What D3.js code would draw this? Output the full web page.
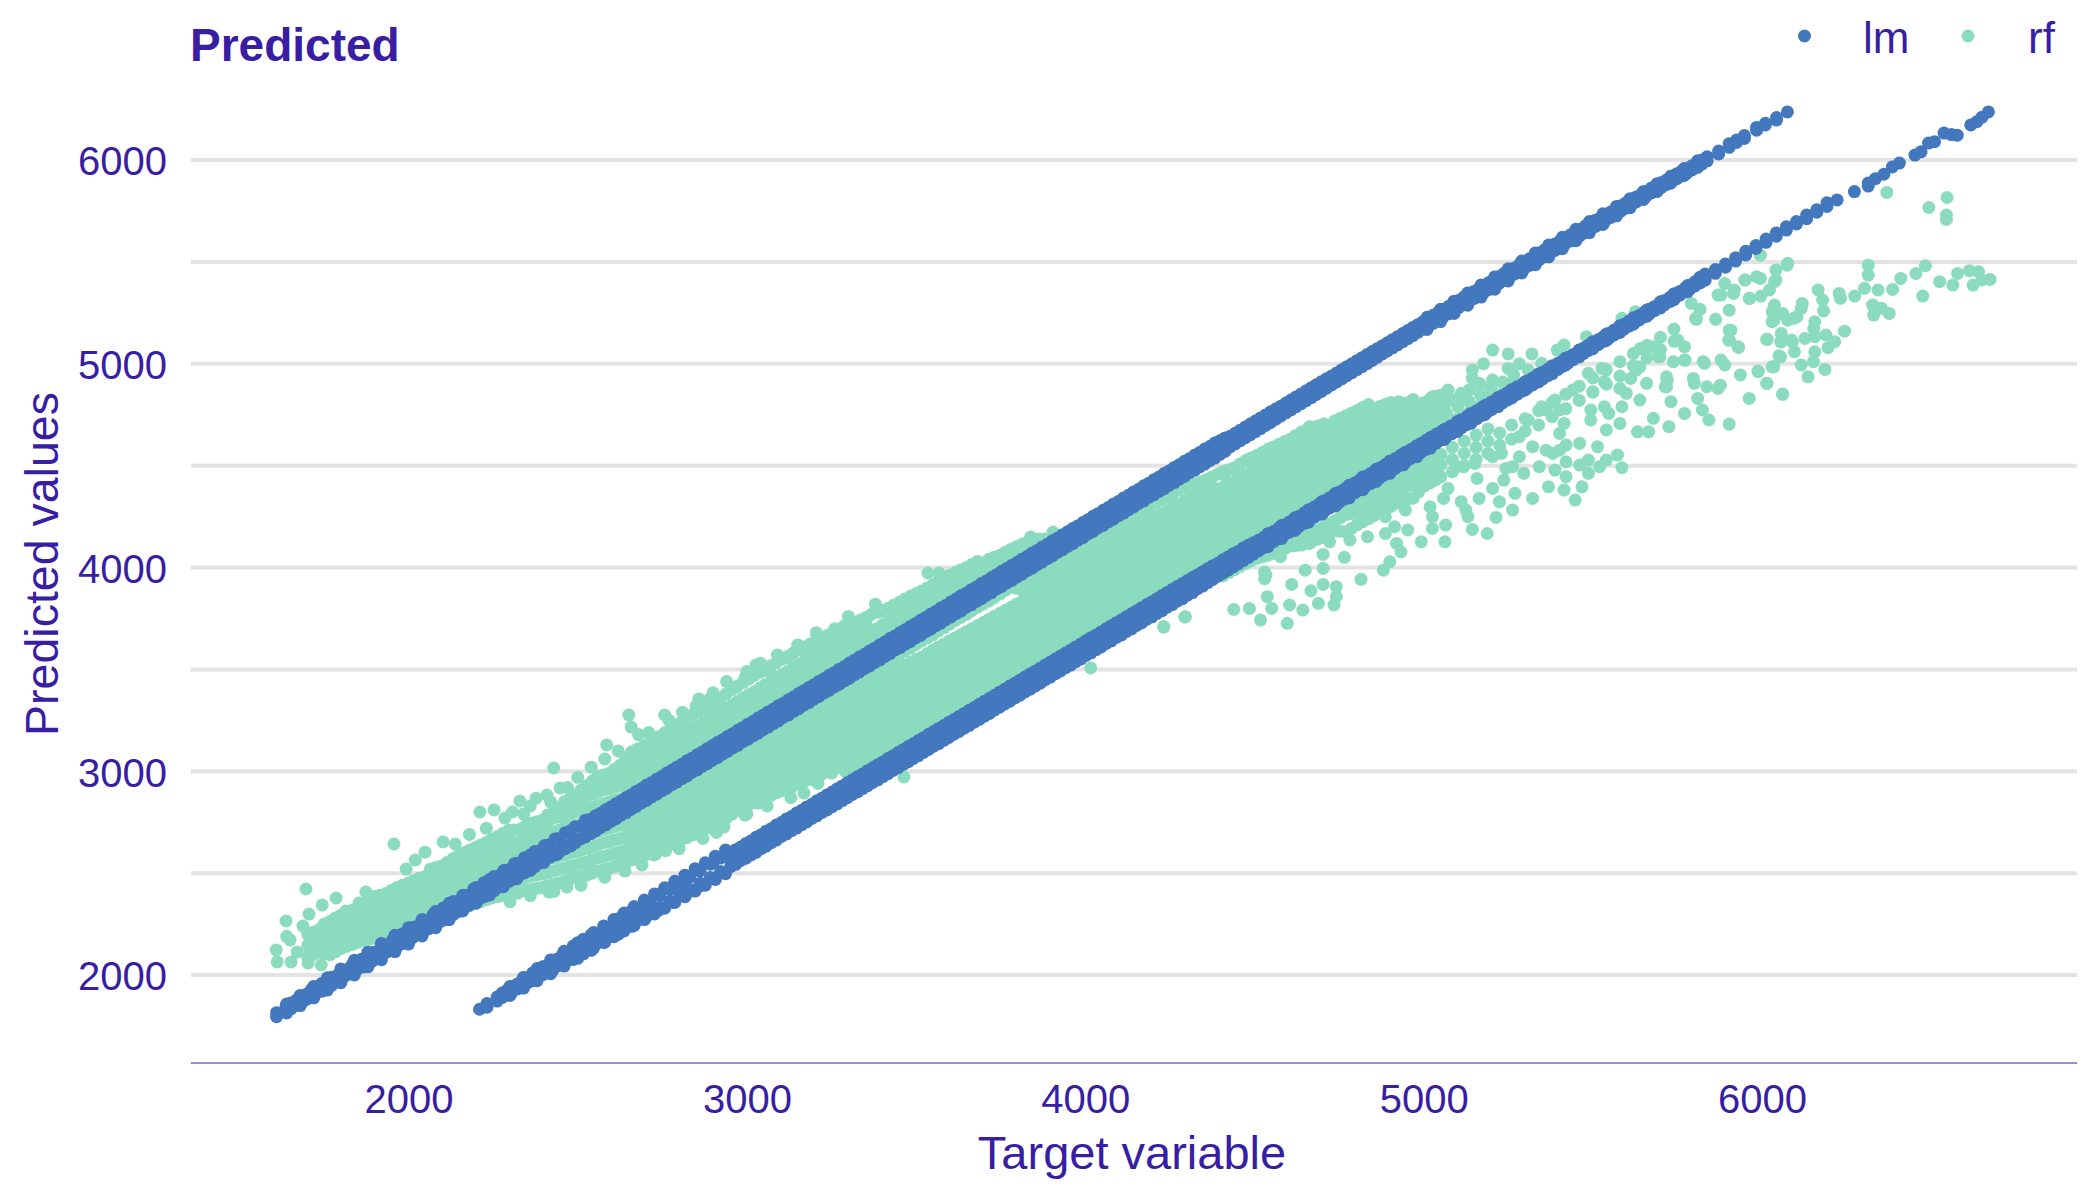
<!DOCTYPE html>
<html><head><meta charset="utf-8"><script src="https://cdn.jsdelivr.net/npm/d3@7/dist/d3.min.js"></script>
<style>html,body{margin:0;padding:0;background:#fff}svg{display:block}</style></head><body><div id="chart"></div>
<script>
const xTicks=[2000,3000,4000,5000,6000];
const yTicks=[2000,3000,4000,5000,6000];
const yGrid=[2000,2500,3000,3500,4000,4500,5000,5500,6000];
const legendKeys=["lm","rf"];
// each row: target value, then the predicted values read at that target
const rfDense=[
[1702,2090,2145,2200],[1735,2112,2165,2222],[1768,2100,2150,2205,2262],[1801,2130,2185,2240,2295],[1834,2150,2205,2262,2318],[1867,2170,2225,2280,2340],[1900,2180,2235,2290,2345,2385],[1933,2200,2260,2315,2370,2400],[1966,2210,2265,2320,2375,2430],[1999,2225,2285,2340,2395,2450],[2032,2250,2305,2365,2420,2475],[2065,2270,2325,2380,2435,2490,2520],[2098,2280,2340,2400,2455,2510,2535],[2131,2305,2360,2420,2475,2530,2570],[2164,2330,2385,2440,2500,2555,2600],[2197,2350,2405,2465,2520,2575,2625],[2230,2370,2425,2480,2540,2595,2650],[2263,2385,2445,2500,2560,2615,2680],[2296,2400,2460,2520,2580,2640,2710],[2329,2410,2470,2535,2595,2655,2715],[2362,2420,2485,2550,2610,2670,2745],[2395,2430,2495,2560,2625,2690,2760],[2428,2445,2510,2575,2640,2700,2770,2800],[2461,2460,2525,2590,2655,2720,2780,2850],[2494,2480,2540,2605,2670,2735,2800,2885],[2527,2490,2555,2620,2685,2750,2815,2880,2930],[2560,2510,2575,2640,2705,2770,2835,2900,2975],[2593,2525,2590,2655,2720,2785,2850,2915,2990],[2626,2540,2605,2670,2735,2800,2865,2930,3030],
[2659,2565,2620,2675,2730,2775,2925,2980,3040,3095],[2692,2580,2635,2690,2745,2800,2955,3010,3065,3120],[2725,2610,2665,2720,2775,2830,2975,3030,3085,3150],[2758,2630,2685,2740,2795,2850,2870,3020,3075,3130,3190],[2791,2655,2710,2765,2820,2875,2905,3050,3105,3160,3225],[2824,2675,2730,2785,2840,2895,2945,3085,3140,3195,3260],[2857,2700,2755,2810,2865,2920,2975,3115,3170,3225,3295],[2890,2725,2780,2835,2890,2945,3005,3150,3205,3260,3325],[2923,2750,2805,2860,2915,2970,3040,3185,3240,3295,3360],[2956,2790,2845,2900,2955,3010,3075,3215,3270,3325,3400],[2989,2825,2880,2935,2990,3045,3105,3250,3305,3360,3435],[3022,2845,2900,2955,3010,3065,3140,3280,3335,3390,3470],[3055,2870,2925,2980,3035,3090,3170,3315,3370,3425,3500],[3088,2895,2950,3005,3060,3115,3205,3350,3405,3460,3535],[3121,2915,2970,3025,3080,3135,3190,3240,3380,3435,3490,3565],[3154,2940,2995,3050,3105,3160,3215,3270,3415,3470,3525,3595],[3187,2960,3015,3070,3125,3180,3235,3305,3445,3500,3555,3625],[3220,2985,3040,3095,3150,3205,3260,3340,3480,3535,3590,3650],[3253,3010,3065,3120,3175,3230,3285,3375,3510,3565,3620,3680],[3286,3030,3085,3140,3195,3250,3305,3405,3545,3600,3655,3705],[3319,3050,3105,3160,3215,3270,3325,3440,3580,3635,3690,3730],[3352,3070,3125,3180,3235,3290,3345,3400,3475,3610,3665,3720,3755],[3385,3085,3140,3195,3250,3305,3360,3415,3505,3645,3700,3780],[3418,3110,3165,3220,3275,3330,3385,3440,3540,3680,3735,3800],
[3451,3125,3180,3235,3290,3345,3400,3455,3510,3575,3710,3770,3830],[3484,3150,3205,3260,3315,3370,3425,3480,3535,3605,3745,3800,3860],[3517,3175,3230,3285,3340,3395,3450,3505,3560,3640,3775,3830,3885],[3550,3210,3265,3320,3375,3430,3485,3540,3595,3670,3810,3865,3915],[3583,3240,3295,3350,3405,3460,3515,3570,3625,3705,3845,3900,3950],[3616,3270,3325,3380,3435,3490,3545,3600,3655,3740,3875,3930,3975],[3649,3300,3355,3410,3465,3520,3575,3630,3685,3770,3910,3965,4000],[3682,3330,3385,3440,3495,3550,3605,3660,3715,3805,3945,4000,4030],[3715,3360,3415,3470,3525,3580,3635,3690,3745,3835,3975,4040],[3748,3390,3445,3500,3555,3610,3665,3720,3775,3870,4010,4060],[3781,3420,3475,3530,3585,3640,3695,3750,3805,3905,4040,4090],[3814,3450,3505,3560,3615,3670,3725,3780,3835,3890,3935,4075,4115],[3847,3480,3535,3590,3645,3700,3755,3810,3865,3920,3970,4105,4135],[3880,3510,3565,3620,3675,3730,3785,3840,3895,3950,4000,4140],[3913,3540,3595,3650,3705,3760,3815,3870,3925,3980,4035],[3946,3570,3625,3680,3735,3790,3845,3900,3955,4010,4065],[3979,3600,3655,3710,3765,3820,3875,3930,3985,4040,4100],[4012,3630,3685,3740,3795,3850,3905,3960,4015,4070,4130],[4045,3660,3715,3770,3825,3880,3935,3990,4045,4100,4160],[4078,3690,3745,3800,3855,3910,3965,4020,4075,4130,4190],[4111,3720,3775,3830,3885,3940,3995,4050,4105,4160,4215],[4144,3750,3805,3860,3915,3970,4025,4080,4135,4190,4245],[4177,3780,3835,3890,3945,4000,4055,4110,4165,4220,4280],[4210,3810,3865,3920,3975,4030,4085,4140,4195,4250,4320],[4243,3840,3895,3950,4005,4060,4115,4170,4225,4280,4345],[4276,3870,3925,3980,4035,4090,4145,4200,4255,4310,4380],[4309,3900,3955,4010,4065,4120,4175,4230,4285,4340,4400],[4342,3930,3985,4040,4095,4150,4205,4260,4315,4370,4420],[4375,3960,4015,4070,4125,4180,4235,4290,4345,4400,4445],
[4408,3960,4065,4120,4175,4230,4285,4340,4395,4470],[4441,3990,4090,4145,4200,4255,4310,4365,4420,4490],[4474,4020,4125,4180,4235,4290,4345,4400,4455,4525],[4507,4045,4155,4210,4265,4320,4375,4430,4485,4550],[4540,4060,4190,4245,4300,4355,4410,4465,4520,4580],[4573,4080,4220,4275,4330,4385,4440,4495,4550,4605],[4606,4105,4255,4310,4365,4420,4475,4530,4585,4630],[4639,4110,4155,4285,4340,4395,4450,4505,4560,4615,4665],[4672,4130,4170,4315,4370,4425,4480,4535,4590,4645,4685],[4705,4150,4200,4350,4405,4460,4515,4570,4625,4680,4705],[4738,4180,4230,4380,4435,4490,4545,4600,4655,4720],[4771,4175,4260,4300,4415,4470,4525,4580,4635,4690,4745],[4804,4210,4270,4330,4445,4500,4555,4610,4665,4720,4770],[4837,4240,4300,4360,4475,4530,4585,4640,4695,4750,4800],[4870,4270,4330,4385,4510,4565,4620,4675,4730,4790],[4903,4300,4360,4415,4540,4595,4650,4705,4760,4810],[4936,4330,4385,4445,4570,4625,4680,4735,4790],[4969,4340,4410,4475,4605,4660,4715,4770,4825],[5002,4400,4460,4510,4640,4695,4750,4810],[5035,4430,4490,4540,4670,4725,4780,4840],[5068,4700,4755,4810,4850],[5101,4730,4790,4830],[5134,4760,4815,4870],[5167,4795,4850,4900],[5200,4825,4880],[5233,4855,4910],[5266,4890,4945]
];
const rfDense2=[
[1718,2100,2155,2210],[1751,2105,2158,2214,2250],[1784,2115,2168,2222,2280],[1817,2140,2195,2250,2305],[1850,2160,2215,2270,2330],[1883,2175,2230,2285,2342,2370],[1916,2190,2248,2302,2358,2392],[1949,2205,2262,2318,2372,2415],[1982,2218,2275,2330,2385,2440],[2015,2238,2295,2352,2408,2462],[2048,2260,2315,2372,2428,2482],[2081,2275,2332,2390,2445,2500,2528],[2114,2292,2350,2410,2465,2520,2552],[2147,2318,2372,2430,2488,2542,2585],[2180,2340,2395,2452,2510,2565,2612],[2213,2360,2415,2472,2530,2585,2638],[2246,2378,2435,2490,2550,2605,2665],[2279,2392,2452,2510,2570,2628,2660,2695],[2312,2405,2465,2528,2588,2648,2712],[2345,2415,2478,2542,2602,2662,2696,2730],[2378,2425,2490,2555,2618,2680,2716,2752],[2411,2438,2502,2568,2632,2695,2725,2765,2785],[2444,2452,2518,2582,2648,2710,2775,2825],[2477,2470,2532,2598,2662,2728,2790,2830,2868],[2510,2485,2548,2612,2678,2742,2808,2842,2880,2908],[2543,2500,2565,2630,2695,2760,2825,2890,2952],[2576,2518,2582,2648,2712,2778,2842,2908,2945,2982],[2609,2532,2598,2662,2728,2792,2858,2922,2966,3010],[2642,2552,2612,2672,2732,2788,2928,2955,2992,3028,3062],[2675,2572,2628,2682,2738,2788,2940,2995,3052,3108],[2708,2595,2650,2705,2760,2815,2965,3020,3075,3135],[2741,2620,2675,2730,2785,2840,2998,3052,3108,3170],[2774,2642,2698,2752,2808,2862,2888,3035,3090,3145,3208],[2807,2665,2720,2775,2830,2885,2925,3068,3122,3178,3242],[2840,2688,2742,2798,2852,2908,2960,3100,3155,3210,3278],[2873,2712,2768,2822,2878,2932,2990,3132,3188,3242,3310],[2906,2738,2792,2848,2902,2958,3022,3168,3222,3278,3342],[2939,2770,2825,2880,2935,2990,3058,3200,3255,3310,3380],[2972,2808,2862,2918,2972,3028,3090,3232,3288,3342,3418],[3005,2835,2890,2945,3000,3055,3088,3122,3265,3320,3375,3452],[3038,2858,2912,2968,3022,3078,3116,3155,3298,3352,3408,3485],[3071,2882,2938,2992,3048,3102,3145,3188,3332,3388,3442,3518],[3104,2905,2960,3015,3070,3125,3160,3198,3365,3420,3475,3550],[3137,2928,2982,3038,3092,3148,3202,3255,3398,3452,3508,3580],[3170,2950,3005,3060,3115,3170,3225,3288,3430,3485,3540,3610],[3203,2972,3028,3082,3138,3192,3248,3285,3322,3462,3518,3572,3638],[3236,2998,3052,3108,3162,3218,3272,3315,3358,3495,3550,3605,3665],[3269,3020,3075,3130,3185,3240,3295,3342,3390,3528,3582,3638,3692],[3302,3040,3095,3150,3205,3260,3315,3368,3422,3562,3618,3672,3718],[3335,3060,3115,3170,3225,3280,3335,3390,3424,3458,3595,3650,3705,3742],[3368,3078,3132,3188,3242,3298,3352,3408,3449,3490,3628,3682,3770],[3401,3098,3152,3208,3262,3318,3372,3428,3475,3522,3662,3718,3790],[3434,3118,3172,3228,3282,3338,3392,3448,3486,3525,3558,3695,3752,3815],[3467,3138,3192,3248,3302,3358,3412,3468,3522,3590,3728,3785,3845],[3500,3162,3218,3272,3328,3382,3438,3492,3548,3622,3760,3815,3872],[3533,3192,3248,3302,3358,3412,3468,3522,3578,3655,3792,3848,3900],[3566,3225,3280,3335,3390,3445,3500,3555,3610,3688,3828,3882,3932],[3599,3255,3310,3365,3420,3475,3530,3585,3640,3722,3860,3915,3962],[3632,3285,3340,3395,3450,3505,3560,3615,3670,3755,3892,3948,3988],[3665,3315,3370,3425,3480,3535,3590,3645,3700,3788,3928,3982,4015],[3698,3345,3400,3455,3510,3565,3620,3675,3730,3820,3960,4020],[3731,3375,3430,3485,3540,3595,3650,3705,3760,3852,3992,4050],[3764,3405,3460,3515,3570,3625,3680,3735,3790,3888,4025,4075],[3797,3435,3490,3545,3600,3655,3710,3765,3820,3898,4058,4102],[3830,3465,3520,3575,3630,3685,3740,3795,3850,3905,3952,4090,4125],[3863,3495,3550,3605,3660,3715,3770,3825,3880,3935,3985,4122,4140],[3896,3525,3580,3635,3690,3745,3800,3855,3910,3965,4018],[3929,3555,3610,3665,3720,3775,3830,3885,3940,3995,4050],[3962,3585,3640,3695,3750,3805,3860,3915,3970,4025,4082],[3995,3615,3670,3725,3780,3835,3890,3945,4000,4055,4115],[4028,3645,3700,3755,3810,3865,3920,3975,4030,4085,4145],[4061,3675,3730,3785,3840,3895,3950,4005,4060,4115,4175],[4094,3705,3760,3815,3870,3925,3980,4035,4090,4145,4202],[4127,3735,3790,3845,3900,3955,4010,4065,4120,4175,4230],[4160,3765,3820,3875,3930,3985,4040,4095,4150,4205,4262],[4193,3795,3850,3905,3960,4015,4070,4125,4180,4235,4300],[4226,3825,3880,3935,3990,4045,4100,4155,4210,4265,4332],[4259,3855,3910,3965,4020,4075,4130,4185,4240,4295,4362],[4292,3885,3940,3995,4050,4105,4160,4215,4270,4325,4392],[4325,3915,3970,4025,4080,4135,4190,4245,4300,4355,4410],[4358,3945,4000,4055,4110,4165,4220,4275,4330,4385,4432],[4391,3960,4040,4095,4150,4205,4260,4315,4370,4458],[4424,3975,4078,4132,4188,4242,4298,4352,4408,4480],[4457,4005,4108,4162,4218,4272,4328,4382,4438,4508],[4490,4032,4140,4195,4250,4305,4360,4415,4470,4538],[4523,4052,4172,4228,4282,4338,4392,4448,4502,4565],[4556,4070,4205,4260,4315,4370,4425,4480,4535,4592],[4589,4092,4238,4292,4348,4402,4458,4512,4568,4618],[4622,4108,4150,4270,4325,4380,4435,4490,4545,4600,4648],[4655,4120,4162,4300,4355,4410,4465,4520,4575,4630,4675],[4688,4140,4185,4332,4388,4442,4498,4552,4608,4662,4695],[4721,4165,4215,4365,4420,4475,4530,4585,4640,4700],[4754,4178,4245,4398,4452,4508,4562,4618,4672,4732],[4787,4192,4265,4315,4430,4485,4540,4595,4650,4705,4758],[4820,4225,4285,4345,4460,4515,4570,4625,4680,4735,4785],[4853,4255,4315,4372,4492,4548,4602,4658,4712,4770],[4886,4285,4345,4400,4525,4580,4635,4690,4745,4800],[4919,4315,4372,4430,4555,4610,4665,4720,4775],[4952,4335,4398,4460,4588,4642,4698,4752,4808],[4985,4370,4435,4492,4622,4678,4732,4790],[5018,4415,4475,4525,4655,4710,4765,4825],[5051,4445,4505,4555,4685,4740,4795,4845],
[5085,4470,4530,4590],[5120,4500,4560,4620],[5155,4530,4590,4650],[5190,4560,4620,4680],[5225,4600,4660],[5260,4630,4700],[5300,4670,4730],[5340,4700,4770],[5380,4740,4810],[5420,4780,4850],[5460,4820,4890],[5500,4860,4930],[5540,4900,4970],[5580,4940,5010],[5620,4990,5050],[5660,5030,5090],[5700,5070,5130],[5740,5110,5170]
];
const rfSlits=[[3187,3270],[3220,3300],[3253,3330],[3286,3355],[3319,3382],[3352,3438],[3385,3460],[3418,3490],[3088,3160],[3055,3130],[3022,3102],[2560,2938],[2593,2952],[2626,2980],[2494,2842],[2461,2815],[2395,2725],[2362,2708],[2296,2675]];
const rfEdges=[[2180,2690],[2230,2720],[2285,2770],[2340,2790],[2360,2830],[2420,2850],[2470,2920],[2500,2970],[2540,3020],[2580,3060],[2620,3100],[2680,3180],[2710,3190],[2770,3250],[2810,3290],[2850,3320],[2900,3385],[2940,3440],[3000,3490],[3040,3530],[3090,3570],[3150,3620],[3205,3680],[3260,3700],[3300,3760],[3380,3820],[2300,2360],[2360,2390],[2430,2410],[2510,2440],[2580,2480],[2640,2510],[2690,2540],[2760,2610],[2800,2620],[2870,2670],[2910,2700],[3000,2790],[3060,2830],[3130,2870],[3210,2940],[3290,3000],[3320,3010],[3380,3050],[3420,3060]];
// scattered rf points: target, predicted
const rfSparse=[
[1697,2422],[1638,2265],[1706,2299],[1745,2344],[1786,2378],[1815,2314],[1688,2240],[1609,2123],[1612,2064],[1653,2064],[1650,2172],[1640,2190],[1671,2113],[1703,2059],[1742,2049],[1874,2407],[1854,2353],[1957,2643],[2049,2603],[2102,2653],[2138,2643],[2020,2564],[1993,2520],[2429,3016],[2329,2854],[2253,2810],[2211,2800],[2307,2800],[2377,2868],[2409,2883],[2448,2918],[2468,2432],[2415,2407],[2323,2402],[2824,2736],[2533,2530],[2725,2589],
[3839,4150],[3905,4174],[3753,4037],[3706,4012],[3674,3963],[3535,3973],[3568,3973],[3626,3924],[3582,3875],[3489,3850],[3523,3850],[3396,3782],[3455,3757],[3352,3733],[3287,3713],[3325,3669],[3179,3595],[3120,3556],[3027,3521],[2994,3458],[3068,3487],[2858,3355],[2891,3355],[2962,3409],[2757,3276],[2651,3276],[2658,3217],[2586,3129],
[2932,2726],[2994,2785],[2823,2736],[2763,2672],[2731,2594],[2625,2550],[3033,2844],[3169,2893],[3251,2991],[3343,3021],[3464,2972],[3532,3217],[3422,3129],[4016,3507],[4232,3708],[4294,3757],[4530,3978],[4530,3945],
[4232,3709],[4296,3758],[4439,3794],[4485,3799],[4518,3742],[4597,3726],[4604,3816],[4643,3791],[4538,3857],[4551,3799],[4610,3917],[4667,3886],[4703,3917],[4742,3906],[4742,3857],[4689,3824],[4735,3816],[4815,3942],[4534,3963],[4650,3987],[4703,3996],[4703,4064],[4766,4050],[4577,4053],[4881,3987],[4900,4028],[4933,4077],[4920,4118],[4993,4126],[5063,4126],[5065,4208],[5144,4187],[5188,4167],[4953,4184],[5026,4192],[4834,4151],[4887,4167],[4782,4135],[4722,4126],[4663,4118],[5131,4249],[5214,4246],[5263,4282],[5111,4323],[5164,4339],[5224,4323],[5322,4339],[5204,4388],[5270,4364],[5237,4429],[5369,4396],[5415,4380],[5448,4331],[5468,4396],[5421,4446],[5487,4462],[5520,4495],[5586,4490],[5573,4552],[5540,4527],[5487,4527],[5461,4503],[5421,4519],[5388,4478],[5382,4560],[5342,4495],[5296,4462],[5263,4495],[5158,4437],[5118,4495],[5072,4388],[5059,4339],[5019,4298],[5026,4249],[4946,4282],[4887,4249],[4914,4200],[5125,4282],[5243,4486],[5204,4544],[5283,4544],[5402,4658],[5421,4601],[5461,4609],[5514,4593],[5540,4675],[5580,4707],[5534,4789],[5586,4789],[5494,4773],[5679,4732],[5725,4691],[5632,4666],[5665,4666],[5771,4756],[5843,4724],[5903,4704],[5824,4773],[5731,4814],[5810,4830],[5962,4830],[6061,4851],[6015,4904],[5870,4879],[5877,4895],[5797,4928],[5718,4936],[5718,4887],[5837,4887],[5989,4961],[5936,4945],[5890,4994],[5830,5002],[5771,5018],[5738,5010],[5639,4985],[5659,4904],[5639,4822],[5612,4928],[5599,4855],[5527,4977],[5534,4912],[5500,4863],[5580,4879],[5487,4953],[5441,4871],[5388,4822],[5362,4773],[5309,4724],[5349,4789],[5402,4773],[5283,4642],[5230,4560],[5151,4511],[5098,4495],[5322,4593],[5362,4576],[5402,4576],[5415,4707],[5494,4724],[5547,4756],
[5679,5084],[5751,5116],[5771,5084],[5698,5034],[5929,5084],[5903,5116],[5903,5165],[5863,5218],[5804,5223],[5817,5267],[5791,5296],[5903,5263],[5870,5337],[5916,5345],[5949,5411],[5995,5419],[6041,5411],[6022,5362],[5962,5321],[5890,5394],[6035,5214],[6061,5247],[6094,5223],[6015,5120],[6055,5108],[6087,5116],[6055,5034],[6035,4985],[6074,5484],[6041,5460],[5995,5533],[5626,5255],[5586,5223],[5481,5133],[5415,5092],[5395,5067],[5204,5067],[5250,5048],[5320,5048],[5177,5000],[5144,4969],[5144,4928],[5283,5000],[5250,4977],[5072,4871],[5026,4838],[4927,4814],[4986,4789],[4881,4781],[4841,4756],[4762,4724],[4663,4691],[4689,4609],[4716,4609],[4637,4593],[4571,4544],[4452,4446],[4419,4421],[4313,4388],[4280,4388],[5164,4904],[5204,4920],[5111,4855],[5204,4855],[5256,4904],[5309,4969],[5349,5002],
[6369,5841],[6493,5767],[6547,5816],[6545,5730],[6545,5708],[6314,5484],[6314,5435],[6483,5481],[6455,5443],[6410,5419],[6578,5443],[6613,5457],[6640,5452],[6674,5414],[6650,5411],[6624,5386],[6525,5403],[6564,5386],[6475,5332],[6386,5365],[6343,5362],[6303,5370],[6274,5332],[6228,5345],[6232,5321],[6166,5362],[6179,5313],[6182,5259],[6076,5493],[6327,5288],[6330,5239],[6353,5272],[6376,5247],[6244,5160],[6119,5296],[6116,5272],[6037,5288],[6030,5255],[6030,5206],[6076,5214],[6103,5231],[6156,5206],[6153,5173],[6156,5133],[6189,5141],[6215,5108],[6195,5079],[6127,5124],[6090,5108],[6057,5149],[6057,5108],[6014,5120],[6156,5059],[6096,5059],[6050,5039],[6152,5010],[6116,4994],[6030,4985],[5988,4964],[6186,4972],[6136,4936],[6014,4904],[6061,4850],[5908,5165],[5902,5116],[5931,5080],[5806,5218],[5879,5337],[5918,5362],[5964,5321],[5997,5332],[5984,5427],[6037,5403],[5951,5411],[5641,5075],[5694,5034],[5747,5116],[5773,5018],[5826,5010],[5879,5018],[5800,4904],[5720,4920],[5714,4887],[5628,4969]
];
const lmUpper=[
[1610,1795,1815],[1638,1822,1848],[1668,1852,1876],[1698,1880,1905],[1728,1912,1934],[1758,1942,1966],[1788,1970,1996],[1818,2000,2026],[1848,2028,2058],[1878,2058,2088],[1908,2086,2116],[1938,2114,2148],[1968,2142,2178],[1998,2170,2208],[2028,2198,2240],[2058,2226,2270],[2088,2256,2300],[2118,2284,2332],[2148,2312,2362],[2178,2342,2392],[2208,2372,2424],[2238,2402,2456],[2268,2432,2486],[2298,2460,2518],[2328,2490,2548],[2358,2520,2578],[2388,2550,2608],[2418,2578,2640],[2448,2608,2668],[2478,2638,2700],[2508,2668,2730],
[2538,2694,2729,2764],[2568,2724,2760,2794],[2598,2754,2789,2824],[2628,2784,2819,2854],[2658,2814,2850,2884],[2688,2845,2879,2914],[2718,2874,2909,2944],[2748,2904,2940,2974],[2778,2934,2969,3005],[2808,2964,2999,3034],[2838,2995,3029,3064],[2868,3024,3060,3094],[2898,3054,3089,3125],[2928,3084,3119,3154],[2958,3114,3150,3184],[2988,3145,3179,3214],[3018,3174,3209,3244],[3048,3204,3240,3275],[3078,3234,3269,3304],[3108,3265,3299,3334],[3138,3294,3330,3364],[3168,3324,3359,3395],[3198,3354,3389,3424],[3228,3385,3419,3454],[3258,3414,3450,3484],[3288,3444,3479,3514],[3318,3474,3509,3545],[3348,3505,3539,3574],[3378,3534,3570,3604],[3408,3564,3599,3634],[3438,3595,3629,3664],[3468,3624,3659,3695],[3498,3654,3689,3724],[3528,3685,3719,3754],[3558,3714,3749,3784],[3588,3744,3780,3814],[3618,3774,3809,3845],[3648,3805,3839,3874],[3678,3834,3870,3904],[3708,3864,3899,3934],[3738,3895,3929,3964],[3768,3924,3959,3995],[3798,3954,3989,4024],[3828,3985,4019,4054],[3858,4014,4049,4084],[3888,4044,4079,4114],[3918,4074,4110,4144],[3948,4104,4139,4175],[3978,4134,4169,4204],[4008,4165,4199,4234],[4038,4195,4229,4264],[4068,4224,4259,4294],[4098,4254,4289,4324],[4128,4284,4319,4354],[4158,4314,4349,4384],[4188,4345,4379,4414],[4218,4374,4409,4444],[4248,4404,4439,4474],[4278,4434,4469,4504],[4308,4465,4499,4534],[4338,4494,4529,4564],[4368,4525,4559,4594],[4398,4555,4589,4622],
[4428,4592,4644],[4458,4622,4674],[4488,4652,4704],[4518,4682,4734],[4548,4712,4764],[4578,4744,4792],[4608,4774,4822],[4638,4804,4852],[4668,4834,4882],[4698,4864,4912],[4728,4896,4940],[4758,4926,4970],[4788,4956,5000],[4818,4986,5030],[4848,5016,5060],[4878,5048,5088],[4908,5078,5118],[4938,5108,5148],[4968,5138,5178],[4998,5170,5206],[5028,5198,5238],[5058,5230,5266],[5088,5260,5296],[5118,5290,5326],[5148,5320,5354],[5178,5350,5384],[5208,5380,5412],[5238,5408,5444],[5268,5440,5470],[5298,5468,5500],[5328,5498,5530],[5358,5526,5560],[5388,5556,5588],[5418,5588,5616],[5448,5616,5646],[5478,5644,5676],[5508,5674,5704],[5538,5704,5728],[5568,5735,5763],[5598,5764,5790],[5628,5794,5818],[5658,5823,5845],[5688,5852,5876],[5718,5880,5902],[5748,5908,5932],[5778,5936,5958],[5808,5966,5986],[5838,5996,6016],[5872,6030,6044],[5903,6062,6080],[5925,6086,6098],[5948,6106,6120],[5984,6146,6160],[6010,6172,6180],[6043,6196,6208],[6075,6236]
];
const lmUpper2=[
[1653,1835,1863],[1683,1860,1896],[1713,1890,1928],[1743,1920,1958],[1773,1949,1989],[1803,1979,2019],[1833,2009,2049],[1863,2039,2079],[1893,2068,2110],[1923,2097,2141],[1953,2126,2172],[1983,2155,2203],[2013,2184,2234],[2043,2211,2267],[2073,2240,2298],[2103,2269,2329],[2133,2297,2361],[2163,2327,2391],[2193,2355,2423],[2223,2385,2453],[2253,2414,2484],[2283,2444,2514],[2313,2472,2546],[2343,2502,2576],[2373,2532,2606],[2403,2562,2636],[2433,2590,2668],[2463,2620,2698],[2493,2650,2728],[2523,2678,2760],
[2553,2707,2781],[2583,2737,2811],[2613,2767,2841],[2643,2797,2871],[2673,2827,2901],[2703,2857,2931],[2733,2887,2961],[2763,2917,2991],[2793,2947,3021],[2823,2977,3051],[2853,3007,3081],[2883,3037,3111],[2913,3067,3141],[2943,3097,3171],[2973,3127,3201],[3003,3157,3231],[3033,3187,3261],[3063,3217,3291],[3093,3247,3321],[3123,3277,3351],[3153,3307,3381],[3183,3337,3411],[3213,3367,3441],[3243,3397,3471],[3273,3427,3501],[3303,3457,3531],[3333,3487,3561],[3363,3517,3591],[3393,3547,3621],[3423,3577,3651],[3453,3607,3681],[3483,3637,3711],[3513,3667,3741],[3543,3697,3771],[3573,3727,3801],[3603,3757,3831],[3633,3787,3861],[3663,3817,3891],[3693,3847,3921],[3723,3877,3951],[3753,3907,3981],[3783,3937,4011],[3813,3967,4041],[3843,3997,4071],[3873,4027,4101],[3903,4057,4131],[3933,4087,4161],[3963,4117,4191],[3993,4147,4221],[4023,4177,4251],[4053,4207,4281],[4083,4237,4311],[4113,4267,4341],[4143,4297,4371],[4173,4327,4401],[4203,4357,4431],[4233,4387,4461],[4263,4417,4491],[4293,4447,4521],[4323,4477,4551],[4353,4507,4581],[4383,4537,4611],[4413,4570,4636],
[4443,4607,4659],[4473,4637,4689],[4503,4667,4719],[4533,4697,4749],[4563,4728,4778],[4593,4759,4807],[4623,4789,4837],[4653,4819,4867],[4683,4849,4897],[4713,4880,4926],[4743,4911,4955],[4773,4941,4985],[4803,4971,5015],[4833,5001,5045],[4863,5032,5074],[4893,5063,5103],[4923,5093,5133],[4953,5123,5163],[4983,5154,5192],[5013,5184,5222],[5043,5214,5252],[5073,5245,5281],[5103,5275,5311],[5133,5305,5341],[5163,5335,5369],[5193,5365,5399],[5223,5394,5428],[5253,5424,5458],[5283,5454,5486],[5313,5483,5515],[5343,5512,5545],[5373,5541,5574],[5403,5572,5602],[5433,5602,5632],[5463,5630,5660],[5493,5659,5689],[5523,5689,5716],[5553,5718,5745],[5583,5749,5776],[5613,5779,5804],[5643,5808,5832],[5673,5838,5862],[5703,5866,5890],[5733,5894,5918],[5763,5922,5946],[5793,5951,5972],[5823,5981,6000]
];
const lmUpper3=[
[1640,1814,1858],[1680,1850,1900],[1720,1888,1944],[1760,1926,1986],[1800,1962,2030],[1840,2000,2072],[1880,2040,2112],[1920,2075,2155],[1960,2115,2195],[2000,2152,2232],[2040,2192,2272],[2080,2232,2312],[2120,2272,2352],[2160,2314,2390],[2200,2353,2429],[2240,2393,2469],[2280,2433,2509],[2320,2473,2549],[2360,2513,2589],[2400,2553,2629],[2440,2593,2669],[2480,2633,2709],
[5010,5168,5228],[5050,5207,5267],[5090,5247,5307],[5130,5287,5347],[5170,5327,5387],[5210,5366,5426],[5250,5406,5466],[5290,5446,5504],[5330,5486,5544],[5370,5525,5583],[5410,5565,5621],[5450,5604,5660],[5490,5644,5698],[5530,5684,5736],[5570,5726,5772],[5610,5766,5810],[5650,5806,5846],[5690,5846,5884],[5730,5886,5920],[5770,5924,5958],[5810,5964,5996]
];
const lmLower=[
[2210,1832],[2232,1842,1860],[2262,1872,1892],[2292,1902,1926],[2322,1932,1956],[2352,1962,1988],[2382,1990,2018],[2412,2018,2050],[2442,2046,2080],[2472,2074,2112],[2502,2104,2142],[2532,2130,2174],[2562,2160,2204],[2592,2190,2232],[2622,2216,2266],[2652,2246,2296],[2682,2274,2328],[2712,2304,2358],[2742,2332,2390],[2772,2362,2420],[2802,2392,2450],[2832,2420,2482],[2862,2450,2512],[2892,2478,2544],[2922,2508,2574],
[2952,2532,2565,2598],[2982,2562,2595,2628],[3012,2590,2624,2658],[3042,2620,2654,2688],[3072,2650,2684,2718],[3102,2680,2714,2748],[3132,2709,2743,2778],[3162,2738,2773,2808],[3192,2768,2803,2838],[3222,2798,2833,2868],[3252,2826,2862,2898],[3282,2856,2892,2928],[3312,2886,2922,2958],[3342,2915,2951,2987],[3372,2945,2981,3017],[3402,2974,3010,3046],[3432,3004,3040,3076],[3462,3034,3070,3106],[3492,3063,3099,3135],[3522,3093,3129,3165],[3552,3123,3159,3195],[3582,3152,3188,3224],[3612,3182,3218,3254],[3642,3212,3248,3284],[3672,3241,3277,3313],[3702,3271,3307,3343],[3732,3301,3337,3373],[3762,3330,3366,3402],[3792,3360,3396,3432],[3822,3390,3426,3462],[3852,3419,3455,3491],[3882,3449,3485,3521],[3912,3479,3515,3551],[3942,3508,3544,3580],[3972,3538,3574,3610],[4002,3568,3604,3640],[4032,3597,3633,3669],[4062,3627,3663,3699],[4092,3657,3693,3729],[4122,3686,3722,3758],[4152,3716,3752,3788],[4182,3746,3782,3818],[4212,3775,3811,3847],[4242,3805,3841,3877],[4272,3835,3871,3907],[4302,3864,3900,3936],[4332,3896,3930,3964],[4362,3926,3960,3994],[4392,3957,3989,4021],[4422,3987,4019,4051],[4452,4019,4049,4079],[4482,4049,4079,4109],
[4512,4082,4134],[4542,4112,4164],[4572,4142,4194],[4602,4172,4222],[4632,4202,4252],[4662,4232,4282],[4692,4262,4312],[4722,4292,4342],[4752,4322,4370],[4782,4352,4400],[4812,4382,4430],[4842,4412,4460],[4872,4442,4490],[4902,4472,4518],[4932,4503,4551],[4962,4535,4579],[4992,4565,4609],[5022,4595,4639],[5052,4626,4666],[5082,4656,4696],[5112,4686,4726],[5142,4716,4754],[5172,4746,4784],[5202,4776,4814],[5232,4806,4842],[5262,4836,4872],[5292,4866,4900],[5322,4896,4930],[5352,4926,4958],[5382,4956,4988],[5412,4988,5016],[5442,5020,5046],[5472,5050,5076],[5502,5080,5104],[5532,5110,5134],[5562,5140,5164],[5592,5170,5194],[5622,5200,5222],[5652,5230,5252],[5682,5260,5280],[5712,5290,5310],[5742,5322,5340],[5772,5352,5370],[5802,5382,5402],[5832,5410,5440],[5862,5444,5462],[5892,5474,5490],[5922,5504,5520],[5952,5534,5552],[5982,5566,5580],[6012,5596,5612],[6042,5626,5642],[6072,5656,5672],[6102,5686,5698],[6132,5712,5730],[6162,5744,5756],[6192,5772,5790],[6222,5804],[6273,5845],[6314,5887,5872],[6335,5908],[6360,5930],[6385,5966],[6406,5985],[6452,6024],[6470,6040],[6492,6083],[6510,6090],[6538,6132],[6560,6125],[6577,6122],[6617,6172],[6635,6188],[6650,6210],[6669,6236]
];
const lmLower2=[
[2277,1890,1912],[2307,1918,1944],[2337,1948,1976],[2367,1972,2010],[2397,2002,2040],[2427,2024,2072],[2457,2050,2106],[2487,2076,2142],[2517,2104,2176],[2547,2132,2208],[2577,2160,2240],[2607,2188,2272],[2637,2216,2304],[2667,2244,2336],[2697,2272,2368],[2727,2300,2398],[2757,2328,2428],[2787,2356,2460],[2817,2384,2490],[2847,2412,2522],[2877,2441,2551],[2907,2469,2583],[2937,2497,2613],
[2967,2543,2615],[2997,2573,2645],[3027,2602,2676],[3057,2632,2706],[3087,2662,2736],[3117,2692,2766],[3147,2721,2795],[3177,2751,2825],[3207,2781,2855],[3237,2810,2884],[3267,2840,2914],[3297,2870,2944],[3327,2899,2973],[3357,2929,3003],[3387,2958,3032],[3417,2988,3062],[3447,3018,3092],[3477,3047,3121],[3507,3077,3151],[3537,3107,3181],[3567,3136,3210],[3597,3166,3240],[3627,3195,3269],[3657,3225,3299],[3687,3255,3329],[3717,3284,3358],[3747,3314,3388],[3777,3344,3418],[3807,3373,3447],[3837,3403,3477],[3867,3432,3506],[3897,3462,3536],[3927,3492,3566],[3957,3521,3595],[3987,3551,3625],[4017,3581,3655],[4047,3610,3684],[4077,3640,3714],[4107,3669,3743],[4137,3699,3773],[4167,3729,3803],[4197,3758,3832],[4227,3788,3862],[4257,3818,3892],[4287,3847,3921],[4317,3877,3951],[4347,3909,3979],[4377,3941,4009],[4407,3972,4038],[4437,4003,4067],[4467,4034,4096],[4497,4066,4122],
[4527,4097,4147],[4557,4127,4177],[4587,4157,4207],[4617,4187,4237],[4647,4217,4267],[4677,4247,4297],[4707,4277,4327],[4737,4307,4357],[4767,4337,4385],[4797,4367,4415],[4827,4397,4445],[4857,4427,4475],[4887,4457,4505],[4917,4487,4535],[4947,4518,4566],[4977,4550,4594],[5007,4580,4624],[5037,4610,4654],[5067,4641,4681],[5097,4671,4711],[5127,4701,4741],[5157,4731,4769],[5187,4761,4799],[5217,4791,4827],[5247,4821,4857],[5277,4851,4887],[5307,4881,4915],[5337,4911,4945],[5367,4941,4973],[5397,4972,5002],[5427,5004,5032],[5457,5035,5061],[5487,5065,5091],[5517,5095,5119],[5547,5125,5149],[5577,5155,5179],[5607,5185,5209],[5637,5215,5237],[5667,5245,5267],[5697,5275,5295],[5727,5305,5325],[5757,5337,5355],[5787,5367,5385],[5817,5397,5425]
];
const lmLower3=[
[2300,1900,1944],[2340,1936,1988],[2380,1972,2032],[2420,2006,2074],[2460,2044,2116],[2500,2082,2158],[2540,2121,2197],[2580,2161,2237],[2620,2200,2276],[2660,2239,2315],[2700,2279,2355],[2740,2318,2394],[2780,2357,2433],[2820,2396,2472],[2860,2436,2512],[2900,2475,2551],
[4540,4102,4166],[4580,4142,4206],[4620,4182,4244],[4660,4222,4284],[4700,4262,4324],[4740,4302,4364],[4780,4342,4404],[4820,4382,4444],[4860,4422,4482],[4900,4462,4522],[4940,4504,4558],[4980,4544,4598],[5020,4586,4636],[5060,4628,4676],[5100,4668,4716],[5140,4708,4756],[5180,4750,4794],[5220,4790,4834],[5260,4832,4872],[5300,4872,4912],[5340,4912,4950],[5380,4952,4990],[5420,4994,5028],[5460,5034,5068],[5500,5074,5108],[5540,5114,5146],[5580,5154,5186],[5620,5194,5226],[5660,5234,5264],[5700,5274,5304],[5740,5314,5344],[5780,5354,5384]
];

const ink="#371ea3", lmColor="#4378bf", rfColor="#8bdcbe", gridColor="#e3e3e3";
const width=2100,height=1200,left=191,right=2077,bottom=1063,dotR=6.5;
const svg=d3.select("#chart").append("svg").attr("width",width).attr("height",height)
  .style("font-family","'Liberation Sans',Arial,sans-serif");
const x=d3.scaleLinear().domain([2000,6000]).range([408.5,1762]);
const y=d3.scaleLinear().domain([2000,6000]).range([975,160]);

svg.append("g").selectAll("line").data(yGrid).join("line")
  .attr("x1",left).attr("x2",right).attr("y1",d=>y(d)).attr("y2",d=>y(d))
  .attr("stroke",gridColor).attr("stroke-width",4);
svg.append("line").attr("x1",left).attr("x2",right).attr("y1",bottom).attr("y2",bottom)
  .attr("stroke",ink).attr("stroke-width",1);

const expand=rows=>rows.flatMap(r=>r.slice(1).map(p=>[r[0],p]));
const dots=(pts,color)=>svg.append("g").selectAll("circle").data(pts).join("circle")
  .attr("cx",d=>x(d[0])).attr("cy",d=>y(d[1])).attr("r",dotR).attr("fill",color);
dots(expand(rfDense).concat(expand(rfDense2),rfSlits,rfEdges,rfSparse),rfColor);
dots(expand(lmUpper).concat(expand(lmUpper2),expand(lmUpper3),expand(lmLower),expand(lmLower2),expand(lmLower3)),lmColor);

const xAxis=svg.append("g").attr("transform",`translate(0,${bottom})`)
  .call(d3.axisBottom(x).tickValues(xTicks).tickFormat(d3.format("d")).tickSize(0).tickPadding(22));
const yAxis=svg.append("g").attr("transform",`translate(167,2)`)
  .call(d3.axisLeft(y).tickValues(yTicks).tickFormat(d3.format("d")).tickSize(0).tickPadding(0));
[xAxis,yAxis].forEach(a=>{a.select(".domain").remove();
  a.selectAll("text").attr("fill",ink).style("font-size","40px").style("font-family","'Liberation Sans',Arial,sans-serif");});

svg.append("text").attr("x",190).attr("y",61).attr("fill",ink).attr("font-weight","bold").attr("font-size",46).text("Predicted");
svg.append("text").attr("x",1132).attr("y",1169).attr("text-anchor","middle").attr("fill",ink).attr("font-size",47).text("Target variable");
svg.append("text").attr("transform","translate(58,564) rotate(-90)").attr("text-anchor","middle").attr("fill",ink).attr("font-size",46.5).text("Predicted values");

const legendDot=[1804.5,1968],legendText=[1863,2028],legendColor=[lmColor,rfColor];
legendKeys.forEach((k,i)=>{
  svg.append("circle").attr("cx",legendDot[i]).attr("cy",36).attr("r",dotR).attr("fill",legendColor[i]);
  svg.append("text").attr("x",legendText[i]).attr("y",53).attr("fill",ink).attr("font-size",44).text(k);
});
</script></body></html>
